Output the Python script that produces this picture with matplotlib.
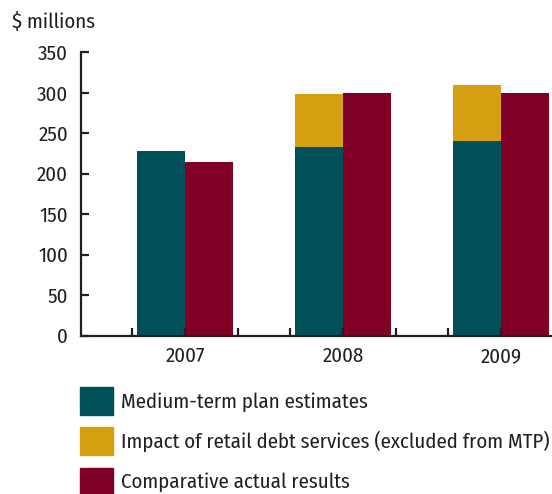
import numpy as np
import matplotlib
matplotlib.use("Agg")
import matplotlib.pyplot as plt
from matplotlib.patches import Patch

# --- data ---
years = ["2007", "2008", "2009"]
mtp_estimates = [228, 233, 240]
retail_debt_impact = [0, 66, 69]
actual_results = [215, 300, 300]

labels = [
    "Medium-term plan estimates",
    "Impact of retail debt services (excluded from MTP)",
    "Comparative actual results",
]

# --- style ---
TEAL = "#004f59"
GOLD = "#d69f12"
RED = "#800026"
INK = "#231f20"
FS = 15

plt.rcParams["font.family"] = ["Fira Sans Condensed", "DejaVu Sans"]
plt.rcParams["text.color"] = INK

W, H = 552, 494
fig = plt.figure(figsize=(W / 100, H / 100), dpi=100)
ax = fig.add_axes([80.5 / W, 1 - 335.5 / H, (W - 80.5) / W, (335.5 - 52.3) / H])

x = np.arange(len(years))
bw = 0.304
ax.bar(x - bw, mtp_estimates, width=bw, align="edge", color=TEAL, label=labels[0])
ax.bar(x - bw, retail_debt_impact, width=bw, align="edge", bottom=mtp_estimates,
       color=GOLD, label=labels[1])
ax.bar(x, actual_results, width=bw, align="edge", color=RED, label=labels[2])

ax.set_ylim(0, 350)
ax.set_xlim(-0.661, 2.323)
ax.set_yticks(np.arange(0, 351, 50))
ax.set_xticks(x)
ax.set_xticklabels(years)
ax.set_xticks(np.arange(-1, 7) / 3, minor=True)

for s in ["top", "right"]:
    ax.spines[s].set_visible(False)
for s in ["left", "bottom"]:
    ax.spines[s].set_linewidth(1.6)
    ax.spines[s].set_color(INK)

ax.tick_params(axis="y", direction="in", length=6, width=1.6, color=INK,
               labelsize=FS, pad=9, labelcolor=INK)
ax.tick_params(axis="x", which="both", direction="in", length=5.5, width=1.6,
               color=INK, labelsize=FS, pad=8, labelcolor=INK)

fig.text(12 / W, 1 - 28 / H, "$ millions", fontsize=FS, va="baseline", ha="left")

handles = [Patch(color=TEAL), Patch(color=GOLD), Patch(color=RED)]
fig.legend(handles, labels, loc="upper left", bbox_to_anchor=(80 / W, 1 - 387 / H),
           frameon=False, fontsize=FS, borderpad=0, borderaxespad=0,
           handlelength=1.58, handleheight=1.68, handletextpad=0.38,
           labelspacing=0.6)

fig.savefig("out.png", dpi=100)
